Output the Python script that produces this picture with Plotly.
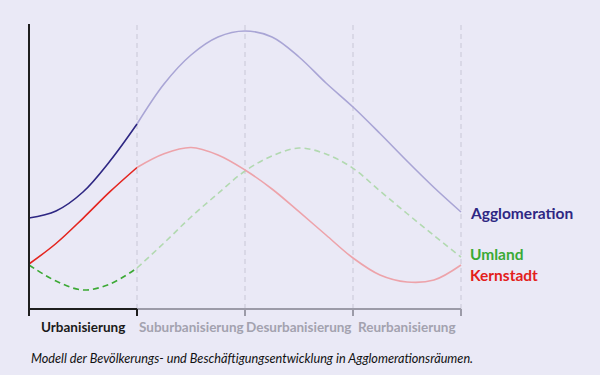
import plotly.graph_objects as go

# phase positions (phase units) where values were read
t = [0, 0.25, 0.5, 0.75, 1, 1.25, 1.5, 1.75, 2, 2.25, 2.5, 2.75, 3, 3.25, 3.5, 3.75, 4]

agglomeration = [91, 98, 117, 148, 185, 225, 254, 272, 278, 272, 252, 226, 202, 175.5, 148, 121.5, 97]
kernstadt = [45, 65.5, 90.7, 117.3, 141.5, 155.2, 161.5, 154, 139, 120, 97.3, 74, 51, 34, 27, 29, 44]
umland = [44, 28, 19, 25, 41, 66, 92, 115.5, 138, 153, 161, 155, 140.7, 118, 95.5, 73.5, 52]

phases = ["Urbanisierung", "Suburbanisierung", "Desurbanisierung", "Reurbanisierung"]
series_names = ["Agglomeration", "Umland", "Kernstadt"]
label_y = [96, 55, 34]
caption = "Modell der Bevölkerungs- und Beschäftigungsentwicklung in Agglomerationsräumen."

BG = "#EAE9F6"
solid_colors = {"Agglomeration": "#2E2783", "Umland": "#3CA935", "Kernstadt": "#E4251F"}
faded_colors = {"Agglomeration": "#A9A5D5", "Umland": "#B2D9B0", "Kernstadt": "#EDA3AA"}
label_colors = {"Agglomeration": "#2E2783", "Umland": "#3AAA35", "Kernstadt": "#E3201B"}
dash = {"Agglomeration": "solid", "Umland": "6px,4px", "Kernstadt": "solid"}
values = {"Agglomeration": agglomeration, "Umland": umland, "Kernstadt": kernstadt}

fig = go.Figure()
split = t.index(1)
for name in ["Umland", "Kernstadt", "Agglomeration"]:
    v = values[name]
    fig.add_trace(go.Scatter(x=t[split:], y=v[split:], mode="lines",
                             line=dict(color=faded_colors[name], width=1.6, dash=dash[name],
                                       shape="spline", smoothing=1.0),
                             hoverinfo="skip", showlegend=False))
    fig.add_trace(go.Scatter(x=t[:split + 1], y=v[:split + 1], mode="lines",
                             line=dict(color=solid_colors[name], width=1.6, dash=dash[name],
                                       shape="spline", smoothing=1.0),
                             hoverinfo="skip", showlegend=False))

shapes = []
# vertical dashed grid lines
for k in range(1, 5):
    shapes.append(dict(type="line", xref="x", yref="paper", x0=k, x1=k, y0=0, y1=1,
                       line=dict(color="#C8C7D6", width=1, dash="5px,4px"), layer="below"))
# y axis line
shapes.append(dict(type="line", xref="x", yref="paper", x0=0, x1=0, y0=0, y1=1,
                   line=dict(color="#1E1E1E", width=2)))
# bottom axis segments
shapes.append(dict(type="line", xref="x", yref="paper", x0=1, x1=4, y0=0, y1=0,
                   line=dict(color="#9C9BA8", width=2)))
shapes.append(dict(type="line", xref="x", yref="paper", x0=0, x1=1, y0=0, y1=0,
                   line=dict(color="#1E1E1E", width=2)))
# ticks
for k in range(0, 5):
    col = "#1E1E1E" if k <= 1 else "#9C9BA8"
    shapes.append(dict(type="line", xref="x", yref="paper", x0=k, x1=k, y0=0, y1=-7 / 285,
                       line=dict(color=col, width=2)))

annotations = []
for i, p in enumerate(phases):
    annotations.append(dict(x=i + 0.5, y=0, xref="x", yref="paper", yshift=-18,
                            text="<b>" + p + "</b>", showarrow=False, xanchor="center", yanchor="middle",
                            font=dict(family="Lato", size=13.5,
                                      color="#1A1A1A" if i == 0 else "#A3A2AF")))
for name, ly in zip(series_names, label_y):
    annotations.append(dict(x=4, y=ly, xref="x", yref="y", xshift=7, text="<b>" + name + "</b>",
                            showarrow=False, xanchor="left", yanchor="middle",
                            font=dict(family="Lato", size=15.5, color=label_colors[name])))
annotations.append(dict(x=0, y=0, xref="x", yref="paper", xshift=0, yshift=-49,
                        text="<i>" + caption + "</i>", showarrow=False,
                        xanchor="left", yanchor="middle",
                        font=dict(family="Lato", size=12.7, color="#111111")))

fig.update_layout(
    width=600, height=375,
    paper_bgcolor=BG, plot_bgcolor=BG,
    margin=dict(l=26, r=136, t=24, b=66),
    xaxis=dict(range=[-1 / 36, 4 + 1 / 36], visible=False, fixedrange=True),
    yaxis=dict(range=[0, 285], visible=False, fixedrange=True),
    shapes=shapes, annotations=annotations,
    showlegend=False,
)

fig.write_html("out.html", config={"displayModeBar": False},
               post_script="document.body.style.margin='0';document.body.style.background='" + BG + "';")
